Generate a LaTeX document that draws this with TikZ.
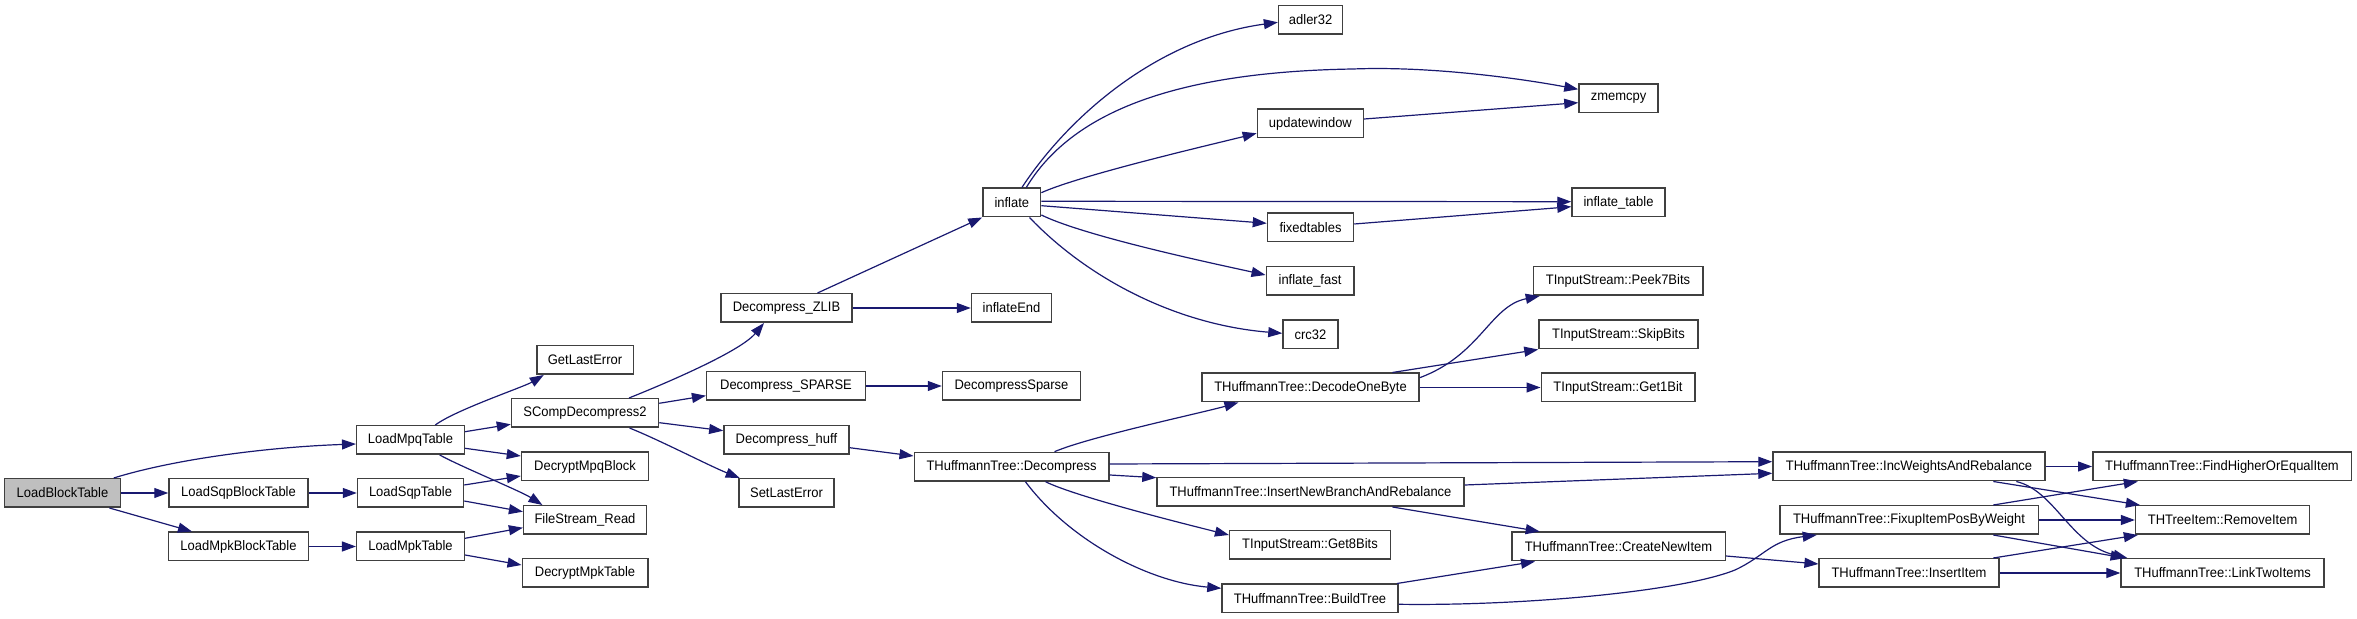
\documentclass[tikz,border=0pt]{standalone}
\usepackage{fontspec}
\setmainfont{Liberation Sans}[FakeStretch=0.94]
\usetikzlibrary{arrows.meta,calc}
\definecolor{edgecol}{HTML}{191970}
\definecolor{boxcol}{HTML}{404040}
\definecolor{rootfill}{HTML}{BFBFBF}
\begin{document}
\begin{tikzpicture}[x=0.5pt,y=-0.5pt,
  fn/.style={draw=boxcol,line width=0.75pt,fill=white,minimum height=14.25pt,inner sep=0pt,font=\fontsize{6.9}{8}\selectfont},
  root/.style={fn,fill=rootfill},
  call/.style={draw=edgecol,line width=0.6pt,-{Triangle[length=7pt,width=5pt]},edgecol}]
\useasboundingbox (0,0) rectangle (2357,619);
% nodes
\node[root,minimum width=58pt] (lbt) at (62.5,493) {LoadBlockTable};
\node[fn,minimum width=69.5pt] (lsbt) at (238.5,493) {LoadSqpBlockTable};
\node[fn,minimum width=70pt] (lmbt) at (238.5,546.5) {LoadMpkBlockTable};
\node[fn,minimum width=53.8pt] (lmpq) at (410.5,440) {LoadMpqTable};
\node[fn,minimum width=53pt] (lsqp) at (410.5,493) {LoadSqpTable};
\node[fn,minimum width=53.8pt] (lmpk) at (410.5,546.5) {LoadMpkTable};
\node[fn,minimum width=48.25pt] (gle) at (585,360) {GetLastError};
\node[fn,minimum width=73.5pt] (scd) at (585,413) {SCompDecompress2};
\node[fn,minimum width=63.5pt] (dmb) at (585,466.5) {DecryptMpqBlock};
\node[fn,minimum width=61.35pt] (fsr) at (585,520) {FileStream\_Read};
\node[fn,minimum width=62.75pt] (dmt) at (585,573) {DecryptMpkTable};
\node[fn,minimum width=65.5pt] (dz) at (786.5,308) {Decompress\_ZLIB};
\node[fn,minimum width=79.35pt] (dsp) at (786,386) {Decompress\_SPARSE};
\node[fn,minimum width=62.5pt] (dh) at (786.4,440) {Decompress\_huff};
\node[fn,minimum width=47.5pt] (sle) at (786.5,493) {SetLastError};
\node[fn,minimum width=28.8pt] (inf) at (1011.8,202.5) {inflate};
\node[fn,minimum width=40pt] (infe) at (1011.5,308) {inflateEnd};
\node[fn,minimum width=69pt] (dsps) at (1011.5,386) {DecompressSparse};
\node[fn,minimum width=97.35pt] (thd) at (1011.6,466.7) {THuffmannTree::Decompress};
\node[fn,minimum width=32pt] (adl) at (1310.6,20) {adler32};
\node[fn,minimum width=53pt] (upd) at (1310.4,123.5) {updatewindow};
\node[fn,minimum width=43pt] (fxt) at (1310.5,227.5) {fixedtables};
\node[fn,minimum width=43.75pt] (inff) at (1310,281) {inflate\_fast};
\node[fn,minimum width=27.5pt] (crc) at (1310.5,334.5) {crc32};
\node[fn,minimum width=108.5pt] (dob) at (1310.5,387.5) {THuffmannTree::DecodeOneByte};
\node[fn,minimum width=153.5pt] (inb) at (1310.5,492) {THuffmannTree::InsertNewBranchAndRebalance};
\node[fn,minimum width=80.3pt] (g8) at (1310,545) {TInputStream::Get8Bits};
\node[fn,minimum width=88pt] (bt) at (1310,598.5) {THuffmannTree::BuildTree};
\node[fn,minimum width=39.5pt] (zmc) at (1618.5,98.5) {zmemcpy};
\node[fn,minimum width=46.5pt] (inft) at (1618.5,202.5) {inflate\_table};
\node[fn,minimum width=84.75pt] (p7) at (1618,281) {TInputStream::Peek7Bits};
\node[fn,minimum width=79.5pt] (skb) at (1618.5,334.5) {TInputStream::SkipBits};
\node[fn,minimum width=76.75pt] (g1) at (1618,387.5) {TInputStream::Get1Bit};
\node[fn,minimum width=106.75pt] (cni) at (1618.5,546.5) {THuffmannTree::CreateNewItem};
\node[fn,minimum width=136pt] (iwr) at (1909,466.5) {THuffmannTree::IncWeightsAndRebalance};
\node[fn,minimum width=129.25pt] (fix) at (1909,520) {THuffmannTree::FixupItemPosByWeight};
\node[fn,minimum width=89.8pt] (ins) at (1909,573) {THuffmannTree::InsertItem};
\node[fn,minimum width=129.25pt] (fho) at (2222,466.5) {THuffmannTree::FindHigherOrEqualItem};
\node[fn,minimum width=87pt] (rmi) at (2222.6,520) {THTreeItem::RemoveItem};
\node[fn,minimum width=101.5pt] (lti) at (2222.6,573) {THuffmannTree::LinkTwoItems};
% edges
\draw[call] ($(lbt.north)+(51.3,0)$) .. controls +(61,-19) and +(-87,3) .. ($(lmpq.west)+(0,4)$);
\draw[call] (lbt.east) -- (lsbt.west);
\draw[call] ($(lbt.south)+(46.9,0)$) -- ($(lmbt.north)+(-46.5,0)$);
\draw[call] (lsbt.east) -- (lsqp.west);
\draw[call] (lmbt.east) -- (lmpk.west);
\draw[call] ($(lmpq.north)+(24.8,0)$) .. controls +(20,-15) and +(-20,12) .. ($(gle.south)+(-41.25,0)$);
\draw[call] ($(lmpq.east)+(0,-8.3)$) -- ($(scd.west)+(0,11.3)$);
\draw[call] ($(lmpq.east)+(0,8.3)$) -- ($(dmb.west)+(0,-10.5)$);
\draw[call] ($(lmpq.south)+(29.2,0)$) .. controls +(22,12) and +(-22,-14) .. ($(fsr.north)+(-42.6,0)$);
\draw[call] ($(lsqp.east)+(0,-8)$) -- ($(dmb.west)+(0,9.5)$);
\draw[call] ($(lsqp.east)+(0,8)$) -- ($(fsr.west)+(0,-8.3)$);
\draw[call] ($(lmpk.east)+(0,-8.2)$) -- ($(fsr.west)+(0,7.7)$);
\draw[call] ($(lmpk.east)+(0,8.5)$) -- ($(dmt.west)+(0,-8)$);
\draw[call] ($(scd.north)+(44,0)$) .. controls +(25,-10) and +(-25,30) .. ($(dz.south)+(-22.5,0)$);
\draw[call] ($(scd.east)+(0,-9.7)$) -- ($(dsp.west)+(0,9.7)$);
\draw[call] ($(scd.east)+(0,9.7)$) -- ($(dh.west)+(0,-9.3)$);
\draw[call] ($(scd.south)+(44.5,0)$) .. controls +(30,12) and +(-30,-12) .. ($(sle.north)+(-46.8,0)$);
\draw[call] ($(dz.north)+(31,0)$) -- (inf.south west);
\draw[call] (dz.east) -- (infe.west);
\draw[call] (dsp.east) -- (dsps.west);
\draw[call] ($(dh.east)+(0,7.7)$) -- ($(thd.west)+(0,-10.7)$);
\draw[call] ($(inf.north)+(10.1,0)$) .. controls +(48,-73) and +(-118.5,16) .. ($(adl.west)+(0,2.3)$);
\draw[call] ($(inf.north)+(14.5,0)$) .. controls +(44,-73) and (1170,72) .. (1353,69) .. controls (1430,66) and +(-59,-11) .. ($(zmc.west)+(0,-9.2)$);
\draw[call] ($(inf.east)+(0,-9.8)$) .. controls +(40,-18) and +(-40,10) .. ($(upd.west)+(0,9.8)$);
\draw[call] ($(inf.east)+(0,-1.2)$) -- ($(inft.west)+(0,-0.8)$);
\draw[call] ($(inf.east)+(0,3.2)$) -- ($(fxt.west)+(0,-4.2)$);
\draw[call] ($(inf.east)+(0,12.5)$) .. controls +(45,22) and +(-45,-10) .. ($(inff.west)+(0,-6)$);
\draw[call] ($(inf.south)+(17.7,0)$) .. controls +(60.5,63.3) and +(-103,-8.3) .. ($(crc.west)+(0,-1.2)$);
\draw[call] ($(upd.east)+(0,-4.5)$) -- ($(zmc.west)+(0,4.2)$);
\draw[call] ($(fxt.east)+(0,-3.5)$) -- ($(inft.west)+(0,4.2)$);
\draw[call] ($(thd.north)+(42.9,0)$) .. controls +(35,-15) and +(-35,10) .. ($(dob.south)+(-72.1,0)$);
\draw[call] ($(thd.east)+(0,-2.7)$) -- ($(iwr.west)+(0,-4.8)$);
\draw[call] ($(thd.east)+(0,8.3)$) -- ($(inb.west)+(0,-14.3)$);
\draw[call] ($(thd.south)+(33.9,0)$) .. controls +(30,15) and +(-40,-10) .. ($(g8.west)+(0,-10)$);
\draw[call] ($(thd.south)+(13.8,0)$) .. controls +(44.6,59.3) and +(-72.3,-6.3) .. ($(bt.west)+(0,-10.2)$);
\draw[call] ($(dob.east)+(0,-9.8)$) .. controls +(61,-22.7) and +(-49.7,10) .. ($(p7.south)+(-78.3,0)$);
\draw[call] ($(dob.north)+(81.9,0)$) -- (skb.south west);
\draw[call] (dob.east) -- (g1.west);
\draw[call] ($(inb.east)+(0,-7)$) -- ($(iwr.west)+(0,6.8)$);
\draw[call] ($(inb.south)+(81.9,0)$) -- ($(cni.north)+(-78.8,0)$);
\draw[call] ($(bt.north)+(86.9,0)$) -- ($(cni.south)+(-83.5,0)$);
\draw[call] ($(bt.east)+(0,5.8)$) .. controls +(122,1.7) and (1680,592) .. (1735,570) .. controls (1765,556) and +(-46.7,5.75) .. ($(fix.south)+(-92.3,0)$);
\draw[call] ($(cni.east)+(0,9.5)$) -- ($(ins.west)+(0,-9)$);
\draw[call] (iwr.east) -- (fho.west);
\draw[call] ($(iwr.south)+(84.3,0)$) -- ($(rmi.north)+(-82.7,0)$);
\draw[call] ($(iwr.south)+(107.3,0)$) .. controls +(38.7,9.25) and +(-57.3,-13.75) .. ($(lti.north)+(-95.3,0)$);
\draw[call] ($(fix.north)+(84.3,0)$) -- ($(fho.south)+(-84.2,0)$);
\draw[call] (fix.east) -- (rmi.west);
\draw[call] ($(fix.south)+(84.3,0)$) -- ($(lti.north)+(-98,0)$);
\draw[call] ($(ins.north)+(84.3,0)$) -- ($(rmi.south)+(-84.8,0)$);
\draw[call] (ins.east) -- (lti.west);
\end{tikzpicture}
\end{document}
